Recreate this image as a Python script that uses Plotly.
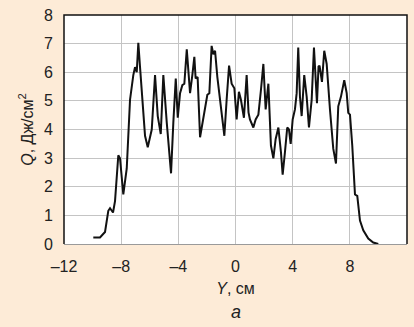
import plotly.graph_objects as go

# Data
y_pos = [-9.95, -9.48, -9.13, -8.90, -8.78, -8.57, -8.43, -8.20, -8.08, -7.85,
         -7.61, -7.38, -7.15, -7.03, -6.91, -6.80, -6.68, -6.56, -6.33, -6.14,
         -5.86, -5.63, -5.44, -5.23, -5.05, -4.81, -4.51, -4.35, -4.18, -4.04,
         -3.88, -3.72, -3.58, -3.41, -3.30, -3.18, -3.02, -2.88, -2.79, -2.65,
         -2.48, -2.32, -2.13, -1.97, -1.83, -1.67, -1.55, -1.43, -1.27, -1.15,
         -0.97, -0.78, -0.62, -0.45, -0.27, -0.08, 0.08, 0.24, 0.38, 0.59,
         0.78, 0.91, 1.01, 1.25, 1.41, 1.60, 1.78, 1.95, 2.11, 2.30,
         2.48, 2.65, 2.81, 3.00, 3.18, 3.30, 3.46, 3.62, 3.74, 3.86,
         4.00, 4.16, 4.28, 4.39, 4.51, 4.63, 4.81, 4.98, 5.14, 5.33,
         5.49, 5.60, 5.70, 5.81, 5.88, 5.95, 6.05, 6.21, 6.38, 6.61,
         6.84, 7.03, 7.19, 7.38, 7.61, 7.78, 7.89, 8.01, 8.17, 8.36,
         8.52, 8.71, 8.94, 9.29, 9.64, 9.99]
q_val = [0.23, 0.23, 0.42, 1.16, 1.25, 1.10, 1.50, 3.10, 2.99, 1.73,
         2.64, 5.04, 5.90, 6.18, 6.00, 7.03, 6.18, 5.27, 3.78, 3.38,
         4.00, 5.90, 4.47, 3.84, 5.90, 4.24, 2.47, 4.24, 5.78, 4.41,
         5.27, 5.55, 5.60, 6.80, 6.06, 5.27, 5.90, 6.54, 5.78, 5.83,
         3.73, 4.24, 4.75, 5.21, 5.27, 6.92, 6.63, 6.75, 5.83, 5.32,
         4.70, 3.78, 5.04, 6.23, 5.60, 5.44, 4.35, 5.32, 5.04, 4.41,
         5.90, 4.60, 4.35, 4.07, 4.35, 4.52, 5.38, 6.29, 4.70, 5.60,
         3.44, 2.99, 3.67, 4.07, 3.21, 2.42, 3.21, 4.07, 4.00, 3.50,
         4.35, 4.70, 5.27, 6.86, 5.15, 4.47, 5.90, 5.15, 4.07, 5.04,
         6.86, 6.00, 4.92, 6.20, 6.23, 6.00, 5.66, 6.75, 6.29, 4.70,
         3.33, 2.81, 4.81, 5.15, 5.72, 5.27, 4.58, 4.52, 3.44, 1.73,
         1.68, 0.82, 0.48, 0.19, 0.05, 0.00]

x_ticks = [-12, -8, -4, 0, 4, 8, 12]
x_tick_text = ["\u201312", "\u20138", "\u20134", "0", "4", "8", "12"]
y_ticks = [0, 1, 2, 3, 4, 5, 6, 7, 8]

FONT = "Liberation Sans, Arial, sans-serif"
BG = "#fdebd7"

fig = go.Figure()
fig.add_trace(go.Scatter(x=y_pos, y=q_val, mode="lines",
                         line=dict(color="#111111", width=2),
                         showlegend=False, hoverinfo="skip"))

fig.update_layout(
    width=414, height=327,
    margin=dict(l=64, r=7, t=10, b=83),
    paper_bgcolor=BG, plot_bgcolor="white",
    font=dict(family=FONT, size=16, color="#222222"),
    xaxis=dict(range=[-12, 12], tickvals=x_ticks, ticktext=x_tick_text,
               showgrid=True, gridcolor="#c4c4c4", gridwidth=1,
               zeroline=False, showline=True, linecolor="#9a9a9a", linewidth=1,
               ticks="", ticklabelstandoff=8, tickfont=dict(size=16),
               title=dict(text="<i>Y</i>, см", font=dict(size=16), standoff=8)),
    yaxis=dict(range=[0, 8], tickvals=y_ticks,
               showgrid=True, gridcolor="#c4c4c4", gridwidth=1,
               zeroline=False, showline=False,
               ticks="", ticklabelstandoff=10, tickfont=dict(size=16),
               title=dict(text="<i>Q</i>, Дж/см<sup>2</sup>", font=dict(size=16), standoff=6)),
    shapes=[dict(type="path", xref="paper", yref="paper",
                 path="M 0,0 L 0,1 L 1,1 L 1,0",
                 line=dict(color="#111111", width=1.5))],
    annotations=[dict(text="<i>а</i>", xref="paper", yref="paper",
                      x=0.5, y=-0.295, xanchor="center", yanchor="middle",
                      showarrow=False, font=dict(size=18, family=FONT, color="#222222"))],
)

fig.write_html("out.html")
